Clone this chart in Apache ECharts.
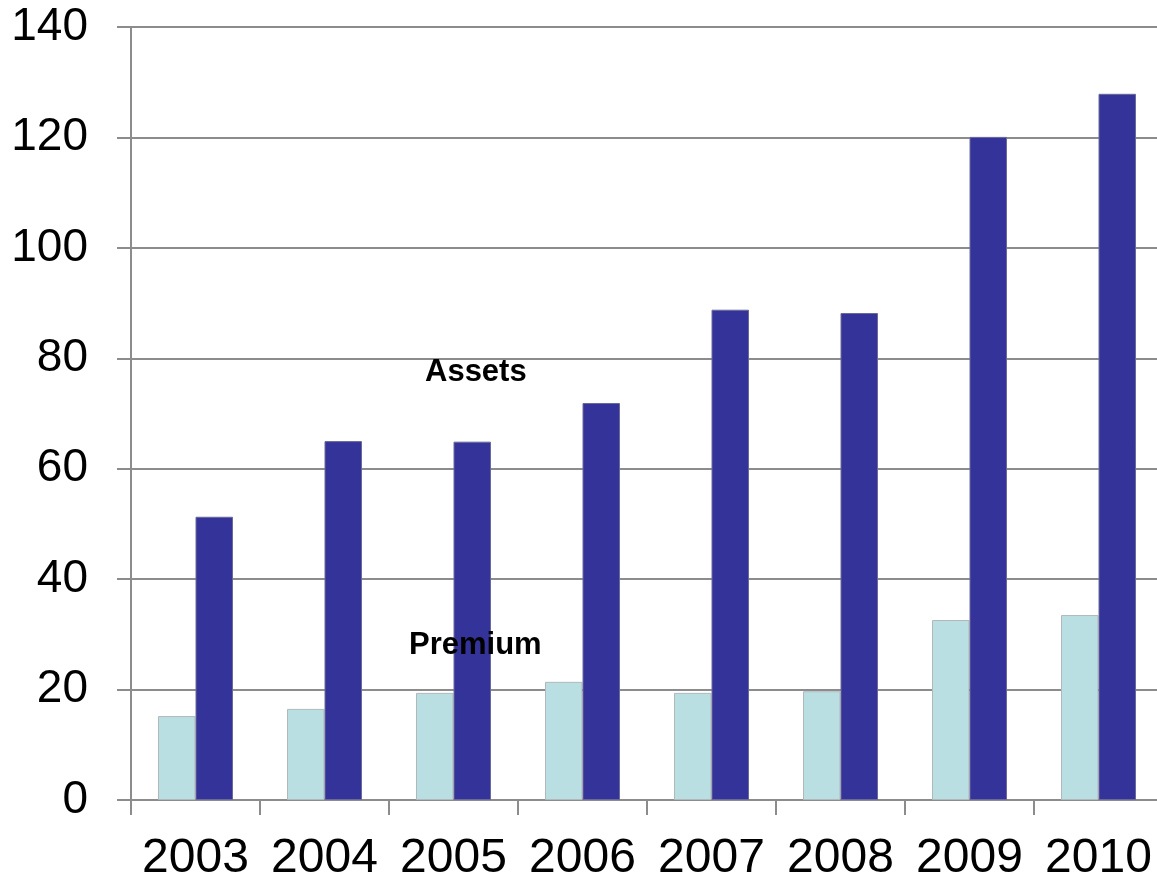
<!DOCTYPE html>
<html><head><meta charset="utf-8">
<script src="https://cdn.jsdelivr.net/npm/echarts@6/dist/echarts.min.js"></script>
<style>html,body{margin:0;padding:0;background:#fff;overflow:hidden}#c{width:1180px;height:877px}</style>
</head><body><div id="c"></div>
<script>
const categories = ['2003','2004','2005','2006','2007','2008','2009','2010'];
const premium = [15.2, 16.5, 19.4, 21.4, 19.4, 19.7, 32.6, 33.5];
const assets = [51.3, 65.0, 64.9, 71.9, 88.8, 88.2, 120.1, 127.9];
const yTicks = {min: 0, max: 140, interval: 20};

const chart = echarts.init(document.getElementById('c'));
chart.setOption({
  animation: false,
  backgroundColor: '#fff',
  grid: {left: 131, top: 27, width: 1032, height: 773, containLabel: false, outerBoundsMode: 'none'},
  xAxis: {
    type: 'category', data: categories,
    axisLine: {lineStyle: {color: '#8c8c8c', width: 2}},
    axisTick: {show: true, length: 15, lineStyle: {color: '#8c8c8c', width: 2}},
    axisLabel: {interval: 0, color: '#000', fontSize: 48, fontFamily: 'Liberation Sans, Arial, sans-serif', margin: 35}
  },
  yAxis: {
    type: 'value', min: yTicks.min, max: yTicks.max, interval: yTicks.interval,
    axisLine: {show: true, lineStyle: {color: '#8c8c8c', width: 2}},
    axisTick: {show: true, length: 14, lineStyle: {color: '#8c8c8c', width: 2}},
    splitLine: {lineStyle: {color: '#8c8c8c', width: 2}},
    axisLabel: {color: '#000', fontSize: 46, fontFamily: 'Liberation Sans, Arial, sans-serif', margin: 43}
  },
  series: [
    {name: 'Premium', type: 'bar', data: premium, barWidth: 37.5, barGap: '0%',
     itemStyle: {color: '#b9dfe3', borderColor: '#b0b8ba', borderWidth: 1}},
    {name: 'Assets', type: 'bar', data: assets, barWidth: 37.5, barGap: '0%',
     itemStyle: {color: '#343399', borderColor: '#6a6a9a', borderWidth: 1}}
  ],
  graphic: [
    {type: 'text', left: 425, top: 357, z: 100,
     style: {text: 'Assets', fontSize: 31, fontWeight: 'bold', fill: '#000', fontFamily: 'Liberation Sans, Arial, sans-serif'}},
    {type: 'text', left: 409, top: 630, z: 100,
     style: {text: 'Premium', fontSize: 31, fontWeight: 'bold', fill: '#000', fontFamily: 'Liberation Sans, Arial, sans-serif'}}
  ]
});
</script></body></html>
